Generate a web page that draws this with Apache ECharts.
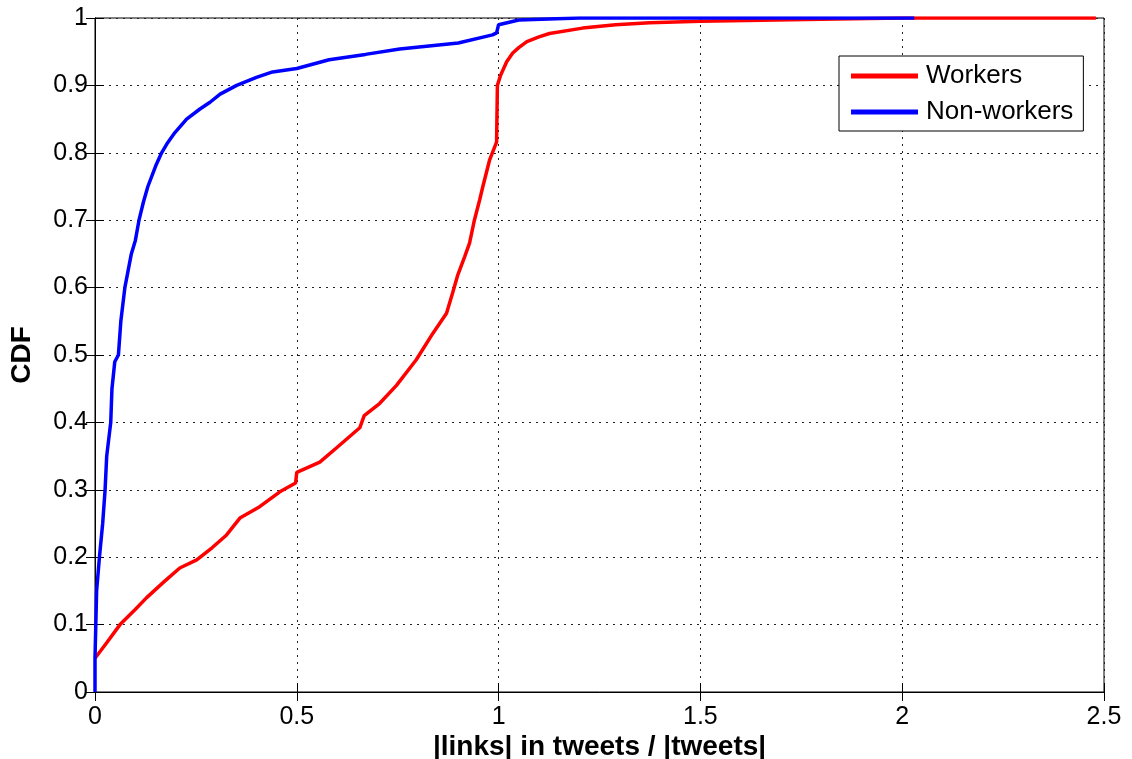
<!DOCTYPE html>
<html>
<head>
<meta charset="utf-8">
<script src="https://cdn.jsdelivr.net/npm/echarts@6/dist/echarts.min.js"></script>
<style>
html,body{margin:0;padding:0;background:#fff;}
#chart{width:1132px;height:759px;}
</style>
</head>
<body>
<div id="chart"></div>
<script>
const seriesNames = ['Workers', 'Non-workers'];
const xTicks = [0, 0.5, 1, 1.5, 2, 2.5];
const yTicks = [0, 0.1, 0.2, 0.3, 0.4, 0.5, 0.6, 0.7, 0.8, 0.9, 1];

const workersX = [0, 0.029, 0.062, 0.099, 0.128, 0.17, 0.21, 0.252, 0.29, 0.326, 0.359, 0.408, 0.458, 0.497, 0.5, 0.557, 0.598, 0.656, 0.667, 0.705, 0.747, 0.796, 0.837, 0.871, 0.886, 0.899, 0.916, 0.928, 0.94, 0.953, 0.961, 0.978, 0.995, 0.997, 1.005, 1.02, 1.035, 1.05, 1.07, 1.1, 1.126, 1.208, 1.29, 1.374, 1.5, 1.8, 2.0, 2.48];
const workersY = [0.05, 0.073, 0.1, 0.122, 0.14, 0.163, 0.184, 0.196, 0.214, 0.233, 0.258, 0.275, 0.297, 0.31, 0.326, 0.341, 0.362, 0.392, 0.41, 0.428, 0.455, 0.493, 0.532, 0.562, 0.592, 0.619, 0.646, 0.666, 0.70, 0.73, 0.75, 0.79, 0.816, 0.9, 0.915, 0.935, 0.948, 0.956, 0.965, 0.972, 0.977, 0.985, 0.99, 0.993, 0.995, 0.998, 1, 1];

const nonWorkersX = [0, 0, 0.002, 0.004, 0.011, 0.019, 0.025, 0.029, 0.039, 0.042, 0.049, 0.058, 0.064, 0.074, 0.09, 0.1, 0.109, 0.12, 0.131, 0.15, 0.165, 0.18, 0.198, 0.227, 0.26, 0.285, 0.31, 0.351, 0.4, 0.44, 0.5, 0.58, 0.67, 0.755, 0.9, 0.985, 0.995, 1.0, 1.05, 1.2, 2.03];
const nonWorkersY = [0, 0.05, 0.1, 0.15, 0.2, 0.25, 0.3, 0.35, 0.4, 0.45, 0.49, 0.5, 0.55, 0.6, 0.65, 0.67, 0.7, 0.727, 0.75, 0.78, 0.8, 0.815, 0.83, 0.85, 0.865, 0.875, 0.887, 0.9, 0.912, 0.92, 0.925, 0.938, 0.946, 0.954, 0.963, 0.975, 0.978, 0.99, 0.997, 1, 1];

const zip = (xs, ys) => xs.map((x, i) => [x, ys[i]]);
const FONT = "'Liberation Sans', Arial, sans-serif";

const chart = echarts.init(document.getElementById('chart'), null, {renderer: 'canvas'});

const gridLine = {show: true, lineStyle: {color: '#222', width: 1, type: [2, 5]}};
const tick = {show: true, inside: true, length: 9, lineStyle: {color: '#000', width: 1}};

const option = {
  animation: false,
  backgroundColor: '#fff',
  textStyle: {fontFamily: FONT},
  grid: {left: 95, right: 28, top: 18, bottom: 67, show: true, borderColor: '#000', borderWidth: 1, containLabel: false, outerBoundsMode: 'none'},
  legend: {
    data: seriesNames,
    orient: 'vertical',
    left: 839, top: 56,
    padding: [7, 10, 6, 12],
    itemGap: 10,
    itemWidth: 67, itemHeight: 5,
    icon: 'rect',
    backgroundColor: '#fff',
    borderColor: '#000', borderWidth: 1, borderRadius: 0,
    textStyle: {fontFamily: FONT, fontSize: 26, color: '#000', lineHeight: 26, padding: [0, 0, 0, 3]}
  },
  xAxis: [{
    type: 'value', min: 0, max: 2.5, interval: 0.5,
    name: '|links| in tweets / |tweets|', nameLocation: 'middle', nameGap: 41, nameMoveOverlap: false,
    nameTextStyle: {fontFamily: FONT, fontSize: 28, fontWeight: 'bold', color: '#000'},
    axisLine: {show: true, lineStyle: {color: '#000', width: 1}},
    axisTick: tick,
    axisLabel: {fontFamily: FONT, fontSize: 25, color: '#000', margin: 13, formatter: v => String(v)},
    splitLine: gridLine
  }, {
    type: 'value', min: 0, max: 2.5, interval: 0.5, position: 'top',
    axisLine: {show: true, lineStyle: {color: '#000'}},
    axisTick: tick, axisLabel: {show: false}, splitLine: {show: false}
  }],
  yAxis: [{
    type: 'value', min: 0, max: 1, interval: 0.1,
    name: 'CDF', nameLocation: 'middle', nameGap: 59, nameRotate: 90, nameMoveOverlap: false,
    nameTextStyle: {fontFamily: FONT, fontSize: 28, fontWeight: 'bold', color: '#000'},
    axisLine: {show: true, lineStyle: {color: '#000', width: 1}},
    axisTick: tick,
    axisLabel: {fontFamily: FONT, fontSize: 25, color: '#000', margin: 7, formatter: v => String(Math.round(v * 10) / 10)},
    splitLine: gridLine
  }, {
    type: 'value', min: 0, max: 1, interval: 0.1, position: 'right',
    axisLine: {show: true, lineStyle: {color: '#000'}},
    axisTick: tick, axisLabel: {show: false}, splitLine: {show: false}
  }],
  series: [{
    name: seriesNames[0], type: 'line', xAxisIndex: 0, yAxisIndex: 0,
    data: zip(workersX, workersY), showSymbol: false, symbol: 'none', z: 3,
    lineStyle: {color: '#ff0000', width: 3.5}, itemStyle: {color: '#ff0000'}
  }, {
    name: seriesNames[1], type: 'line', xAxisIndex: 0, yAxisIndex: 0,
    data: zip(nonWorkersX, nonWorkersY), showSymbol: false, symbol: 'none', z: 4,
    lineStyle: {color: '#0000ff', width: 3.5}, itemStyle: {color: '#0000ff'}
  }]
};
chart.setOption(option);
</script>
</body>
</html>
